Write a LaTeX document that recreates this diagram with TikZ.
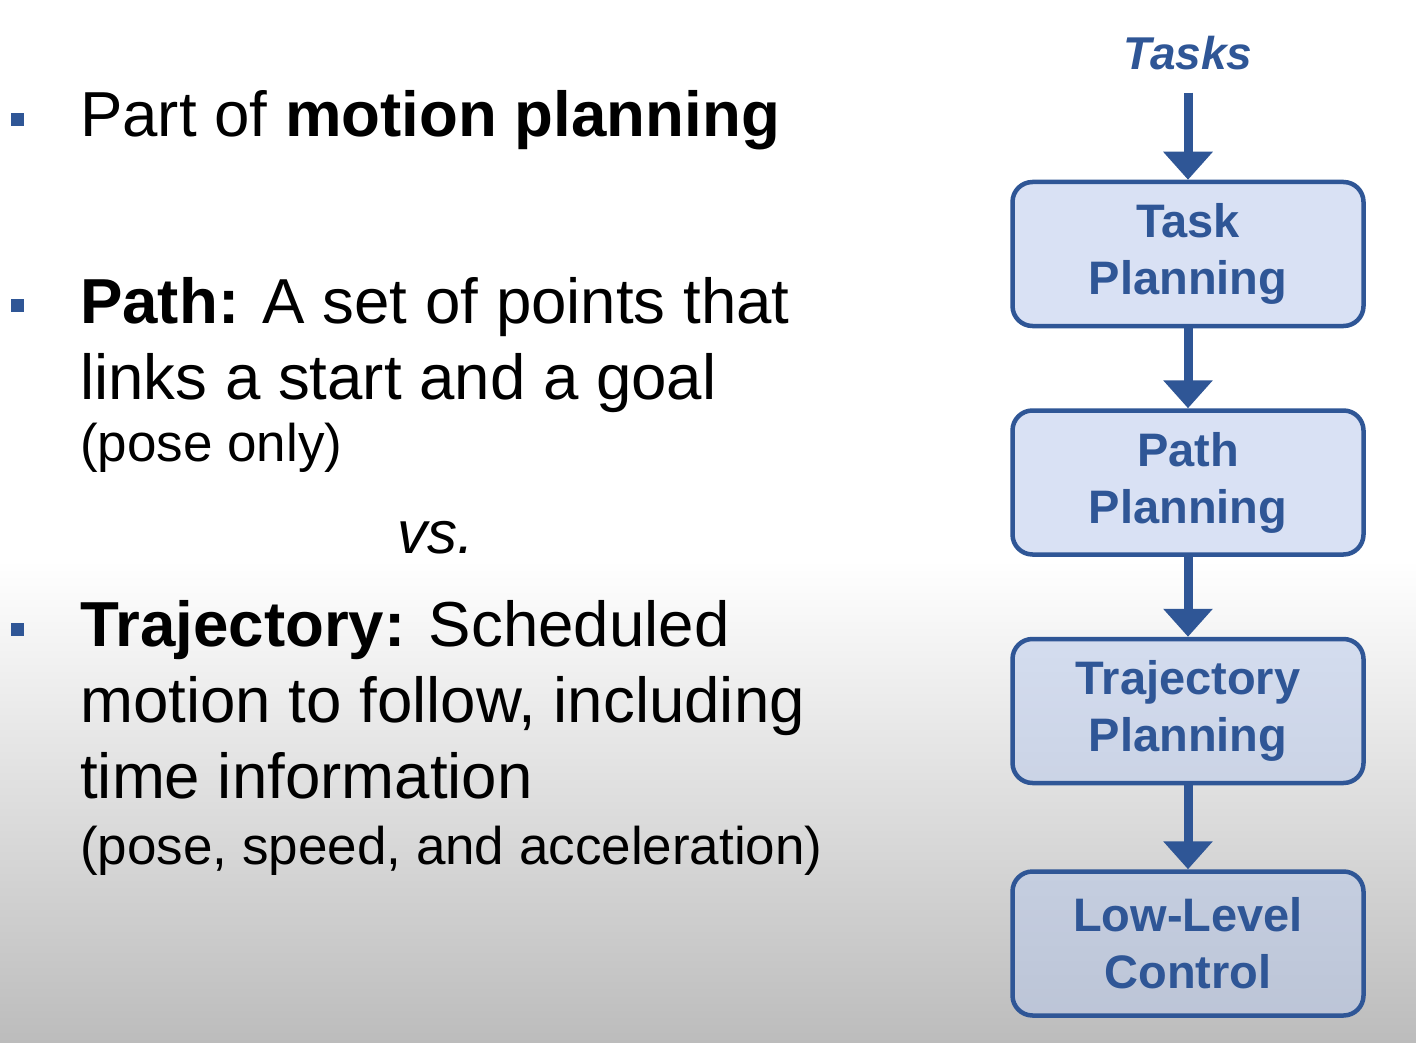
\documentclass[tikz,border=0pt]{standalone}
\usepackage{fontspec}
\setmainfont{Liberation Sans}
\usetikzlibrary{positioning,arrows.meta}
\definecolor{slateblue}{RGB}{47,86,150}
\definecolor{boxfill}{RGB}{186,202,235}
\tikzstyle{planning chain}=[
    x=1pt,y=-1pt,node distance=80pt,
    every node/.style={
        align=center,
    },
    stage/.style={
        draw=slateblue,line width=4.5pt,rounded corners=20pt,
        fill=boxfill,fill opacity=0.55,text opacity=1,
        minimum width=351pt,minimum height=144pt,inner sep=0pt,
        text=slateblue,font=\fontsize{47}{57}\selectfont\bfseries,
    },
    flow/.style={
        draw=slateblue,line width=9pt,-{Triangle[width=48pt,length=28pt]},
    },
    bulletsq/.style={fill=slateblue,minimum size=13pt,inner sep=0pt},
    bigtext/.style={anchor=base west,inner sep=0pt,align=left,font=\fontsize{63.6}{76}\selectfont},
    smalltext/.style={anchor=base west,inner sep=0pt,font=\fontsize{53}{60}\selectfont},
]

\begin{document}
\begin{tikzpicture}[planning chain]
        \useasboundingbox (0,0) rectangle (1416,1043);
        \fill[white] (0,0) rectangle (1416,1043);
        \shade[top color=white,bottom color={rgb,255:red,188;green,188;blue,188}] (0,560) rectangle (1416,1043);

        \node[bulletsq] (b1) at (17,120) {};
        \node[bulletsq] (b2) at (17,305) {};
        \node[bulletsq] (b3) at (17,629) {};
        \node[bigtext] (motion) at (80,137) {Part of \textbf{motion planning}};
        \node[bigtext] (pathdef) at (80,399) {\textbf{Path:} A set of points that\\links a start and a goal};
        \node[smalltext] (poseonly) at (80,461) {(pose only)};
        \node[bigtext,font=\fontsize{60}{60}\selectfont\itshape] (vs) at (397,553) {vs.};
        \node[bigtext] (trajdef) at (80,798) {\textbf{Trajectory:} Scheduled\\motion to follow, including\\time information};
        \node[smalltext] (poseall) at (80,864) {(pose, speed, and acceleration)};

        \node[anchor=base,inner sep=4pt,text=slateblue,font=\fontsize{46}{46}\selectfont\bfseries\itshape] (tasks) at (1188,70) {Tasks};
        \node[stage] (task) at (1188,254) {Task\\Planning};
        \node[stage,below=of task] (path) {Path\\Planning};
        \node[stage,below=of path] (traj) {Trajectory\\Planning};
        \node[stage,below=84pt of traj] (ctrl) {Low-Level\\Control};

        \path
            (tasks) edge[flow,shorten <=18pt] (task)
            (task) edge[flow] (path)
            (path) edge[flow] (traj)
            (traj) edge[flow] (ctrl)
        ;
    \end{tikzpicture}
\end{document}
